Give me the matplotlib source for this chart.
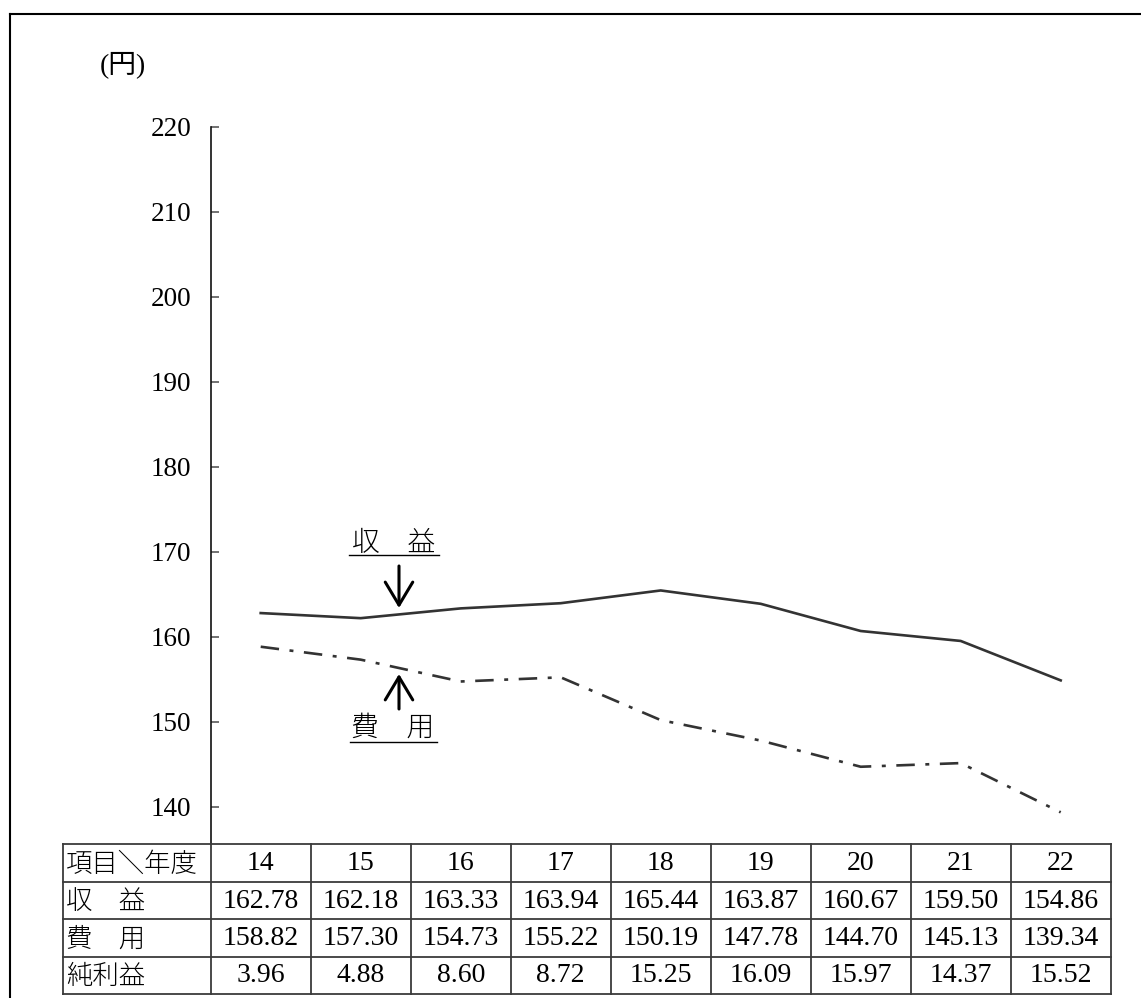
import matplotlib
matplotlib.use("Agg")
import matplotlib.pyplot as plt
from matplotlib.lines import Line2D

plt.rcParams['font.family'] = ['Liberation Serif', 'Noto Sans CJK JP']

years = ["14", "15", "16", "17", "18", "19", "20", "21", "22"]
revenue = [162.78, 162.18, 163.33, 163.94, 165.44, 163.87, 160.67, 159.50, 154.86]
expense = [158.82, 157.30, 154.73, 155.22, 150.19, 147.78, 144.70, 145.13, 139.34]
net_profit = [3.96, 4.88, 8.60, 8.72, 15.25, 16.09, 15.97, 14.37, 15.52]
row_labels = ["項目＼年度", "収　益", "費　用", "純利益"]
y_ticks = [140, 150, 160, 170, 180, 190, 200, 210, 220]
unit_label = "(円)"
label_rev = "収　益"
label_exp = "費　用"

W, H = 1141, 998
fig = plt.figure(figsize=(W / 100, H / 100), dpi=100)

def fx(px):
    return px / W

def fy(py):
    return 1 - py / H

# plot axes
ax_l, ax_r, ax_t, ax_b = 210.7, 1110.7, 126.7, 844.0
ax = fig.add_axes([fx(ax_l), fy(ax_b), fx(ax_r - ax_l), (ax_b - ax_t) / H])
ppu = 8.5
ax.set_xlim(-0.5, 8.5)
ax.set_ylim(140 - (ax_b - 806.7) / ppu, 220)
xs = list(range(len(years)))
ink = '#333333'
ax.plot(xs, revenue, color=ink, lw=1.9, solid_joinstyle='miter')
ax.plot(xs, expense, color=ink, lw=1.9, linestyle=(0, (7.0, 4.0, 1.5, 4.0)))

for s in ['top', 'right', 'bottom']:
    ax.spines[s].set_visible(False)
ax.spines['left'].set_color('#111111')
ax.spines['left'].set_linewidth(1.2)
ax.set_xticks([])
ax.set_yticks(y_ticks)
ax.set_yticklabels([str(v) for v in y_ticks], fontsize=19.5)
ax.tick_params(axis='y', direction='in', length=6, width=1.3, color='#666666', pad=14)
ax.set_facecolor('none')


def to_data(px, py):
    return (px - 260.7) / 100.0, 220 - (py - ax_t) / ppu

cjk = ['Noto Sans CJK JP']
# annotations
arrow_props = dict(arrowstyle='->,head_length=0.55,head_width=0.33', color='black', lw=2.2,
                   shrinkA=0, shrinkB=0, mutation_scale=30)
tx, ty = to_data(394, 543)
ax.text(tx, ty, label_rev, fontsize=20, ha='center', va='center', family=cjk, fontweight='light')
x0, yu = to_data(349, 555)
x1, _ = to_data(439, 555)
ax.plot([x0, x1], [yu, yu], color='black', lw=1.0)
ax.annotate('', xy=to_data(399, 608), xytext=to_data(399, 566), arrowprops=arrow_props)

tx, ty = to_data(393, 728)
ax.text(tx, ty, label_exp, fontsize=20, ha='center', va='center', family=cjk, fontweight='light')
x0, yu = to_data(350, 742)
x1, _ = to_data(437, 742)
ax.plot([x0, x1], [yu, yu], color='black', lw=1.0)
ax.annotate('', xy=to_data(399, 674), xytext=to_data(399, 709), arrowprops=arrow_props)

# unit label
fig.text(fx(100), fy(65), unit_label, fontsize=20, ha='left', va='center',
         family=['Liberation Serif', 'Noto Sans CJK JP'])

# table axes
tb_l, tb_r, tb_t, tb_b = 63.0, 1110.7, 844.0, 994.0
tax = fig.add_axes([fx(tb_l), fy(tb_b), fx(tb_r - tb_l), (tb_b - tb_t) / H])
lab_w = (210.7 - tb_l) / 100.0
tax.set_xlim(-lab_w, len(years))
tax.set_ylim(4, 0)
tax.axis('off')
grid_c = '#3a3a3a'
for r in range(5):
    tax.plot([-lab_w, len(years)], [r, r], color=grid_c, lw=1.3, clip_on=False)
tax.plot([-lab_w, -lab_w], [0, 4], color=grid_c, lw=1.3, clip_on=False)
for c in range(len(years) + 1):
    tax.plot([c, c], [0, 4], color=grid_c, lw=1.3, clip_on=False)

for r, lab in enumerate(row_labels):
    tax.text(-lab_w + 0.03, r + 0.52, lab, fontsize=19, ha='left', va='center', family=cjk,
             fontweight='light')

rows = [years,
        [f"{v:.2f}" for v in revenue],
        [f"{v:.2f}" for v in expense],
        [f"{v:.2f}" for v in net_profit]]
for r, vals in enumerate(rows):
    for c, v in enumerate(vals):
        tax.text(c + 0.5, r + 0.52, v, fontsize=20, ha='center', va='center')

# figure border (left and top)
fig.add_artist(Line2D([fx(9.5), fx(9.5)], [0, fy(13.5)], color='black', lw=1.5))
fig.add_artist(Line2D([fx(9.5), 1], [fy(13.5), fy(13.5)], color='black', lw=1.5))

fig.savefig('out.png', dpi=100)
